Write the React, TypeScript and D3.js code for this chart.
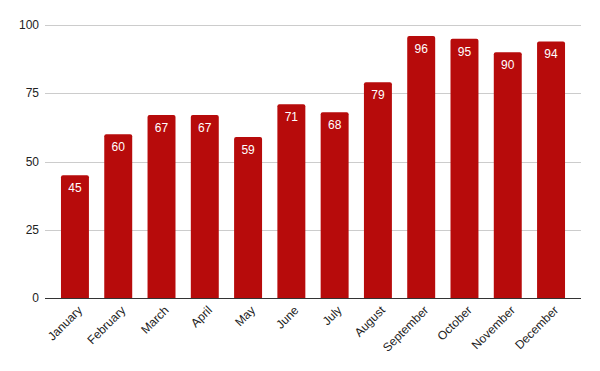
import { useEffect, useRef } from "react";
import * as d3 from "d3";

const months = [
  "January",
  "February",
  "March",
  "April",
  "May",
  "June",
  "July",
  "August",
  "September",
  "October",
  "November",
  "December",
];
const values = [45, 60, 67, 67, 59, 71, 68, 79, 96, 95, 90, 94];
const yTicks = [0, 25, 50, 75, 100];

const width = 600;
const height = 371;

const App: React.FC = () => {
  const ref = useRef<SVGSVGElement>(null);

  useEffect(() => {
    if (!ref.current) return;
    const svg = d3.select(ref.current);
    svg.selectAll("*").remove();

    const margin = { top: 25, right: 19, bottom: 73, left: 45 };
    const x = d3
      .scaleBand<string>()
      .domain(months)
      .range([margin.left, width - margin.right])
      .paddingInner(0.354)
      .paddingOuter(0.369);
    const y = d3
      .scaleLinear()
      .domain([0, 100])
      .range([height - margin.bottom, margin.top]);

    const font = "Arial, 'Liberation Sans', sans-serif";

    // gridlines
    svg
      .append("g")
      .selectAll("line")
      .data(yTicks.filter((t) => t > 0))
      .enter()
      .append("line")
      .attr("x1", margin.left)
      .attr("x2", width - margin.right)
      .attr("y1", (d) => Math.round(y(d)) + 0.5)
      .attr("y2", (d) => Math.round(y(d)) + 0.5)
      .attr("stroke", "#cccccc")
      .attr("stroke-width", 1);

    // y labels
    svg
      .append("g")
      .selectAll("text")
      .data(yTicks)
      .enter()
      .append("text")
      .attr("x", margin.left - 6)
      .attr("y", (d) => y(d))
      .attr("dy", "0.35em")
      .attr("text-anchor", "end")
      .style("font-family", font)
      .style("font-size", "12px")
      .style("fill", "#222")
      .text((d) => d);

    // bars with rounded tops
    const r = 2;
    svg
      .append("g")
      .selectAll("path")
      .data(values)
      .enter()
      .append("path")
      .attr("d", (d, i) => {
        const x0 = x(months[i])!;
        const w = x.bandwidth();
        const y0 = y(0);
        const y1 = y(d);
        return `M${x0},${y0}V${y1 + r}Q${x0},${y1} ${x0 + r},${y1}H${x0 + w - r}Q${x0 + w},${y1} ${x0 + w},${y1 + r}V${y0}Z`;
      })
      .attr("fill", "#b70b0b");

    // value labels
    svg
      .append("g")
      .selectAll("text")
      .data(values)
      .enter()
      .append("text")
      .attr("x", (d, i) => x(months[i])! + x.bandwidth() / 2)
      .attr("y", (d) => y(d) + 17)
      .attr("text-anchor", "middle")
      .style("font-family", font)
      .style("font-size", "12px")
      .style("fill", "#ffffff")
      .text((d) => d);

    // baseline
    svg
      .append("line")
      .attr("x1", margin.left)
      .attr("x2", width - margin.right)
      .attr("y1", Math.round(y(0)) + 0.5)
      .attr("y2", Math.round(y(0)) + 0.5)
      .attr("stroke", "#333333")
      .attr("stroke-width", 1);

    // x labels
    svg
      .append("g")
      .selectAll("text")
      .data(months)
      .enter()
      .append("text")
      .attr(
        "transform",
        (d) =>
          `translate(${x(d)! + x.bandwidth() / 2 + 5},${y(0) + 10}) rotate(-45)`
      )
      .attr("text-anchor", "end")
      .attr("dy", "0.35em")
      .style("font-family", font)
      .style("font-size", "12px")
      .style("fill", "#222")
      .text((d) => d);
  }, []);

  return (
    <svg
      ref={ref}
      width={width}
      height={height}
      style={{ display: "block", position: "absolute", left: 0, top: 0, background: "#fff" }}
    />
  );
};

export default App;
